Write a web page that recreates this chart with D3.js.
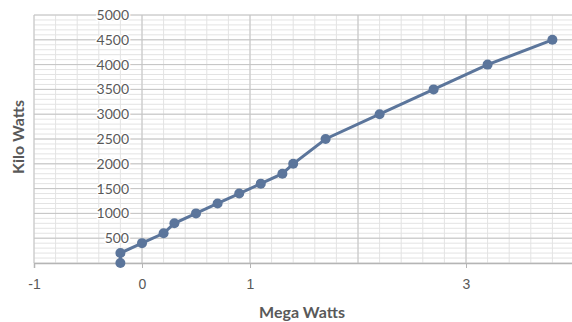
<!DOCTYPE html>
<html>
<head>
<meta charset="utf-8">
<script src="https://cdn.jsdelivr.net/npm/d3@7"></script>
<style>
  body { margin: 0; background: #fff; }
  svg { display: block; font-family: Lato, "Open Sans", sans-serif; }
</style>
</head>
<body>
<svg id="chart" width="572" height="322"></svg>
<script>
// data
const megaWatts = [-0.2, -0.2, 0, 0.2, 0.3, 0.5, 0.7, 0.9, 1.1, 1.3, 1.4, 1.7, 2.2, 2.7, 3.2, 3.8];
const kiloWatts = [0, 200, 400, 600, 800, 1000, 1200, 1400, 1600, 1800, 2000, 2500, 3000, 3500, 4000, 4500];
const xTickLabels = [-1, 0, 1, 3];
const yTickLabels = [500, 1000, 1500, 2000, 2500, 3000, 3500, 4000, 4500, 5000];

const points = megaWatts.map((mw, i) => ({ mw, kw: kiloWatts[i] }));

const svg = d3.select("#chart");
const margens = { left: 34, right: -2, top: 15, bottom: 59 };
const width = 572, height = 322;

const x = d3.scaleLinear()
    .domain([-1, 4])
    .range([margens.left, width - margens.right]);

const y = d3.scaleLinear()
    .domain([0, 5000])
    .range([height - margens.bottom, margens.top]);

// minor grid
svg.append("g")
    .selectAll("line")
    .data(d3.range(-1, 4.01, 0.2))
    .join("line")
    .attr("x1", d => x(d)).attr("x2", d => x(d))
    .attr("y1", y(0)).attr("y2", y(5000))
    .attr("stroke", "#e3e3e3");

svg.append("g")
    .selectAll("line")
    .data(d3.range(0, 5001, 100))
    .join("line")
    .attr("x1", x(-1)).attr("x2", width)
    .attr("y1", d => y(d)).attr("y2", d => y(d))
    .attr("stroke", "#e3e3e3");

// major grid
svg.append("g")
    .selectAll("line")
    .data(d3.range(-1, 5, 1))
    .join("line")
    .attr("x1", d => x(d)).attr("x2", d => x(d))
    .attr("y1", y(0)).attr("y2", y(5000))
    .attr("stroke", "#c4c4c4");

svg.append("g")
    .selectAll("line")
    .data(yTickLabels)
    .join("line")
    .attr("x1", x(-1)).attr("x2", width)
    .attr("y1", d => y(d)).attr("y2", d => y(d))
    .attr("stroke", "#c4c4c4");

// x axis
svg.append("g")
    .attr("transform", `translate(0, ${y(0)})`)
    .call(d3.axisBottom(x).tickValues(xTickLabels).tickSize(5).tickFormat(d => String(d)))
    .call(g => g.select(".domain").attr("stroke", "#b5b5b5").attr("stroke-width", 1.5))
    .call(g => g.selectAll(".tick line").attr("stroke", "#b5b5b5"))
    .call(g => g.selectAll(".tick text")
        .attr("fill", "#595959")
        .attr("font-size", "14px")
        .attr("dy", "1.3em"));

// y tick labels sit left of the x = 0 line
svg.append("g")
    .selectAll("text")
    .data(yTickLabels)
    .join("text")
    .attr("x", x(0) - 13)
    .attr("y", d => y(d))
    .attr("dy", "0.36em")
    .attr("text-anchor", "end")
    .attr("fill", "#595959")
    .attr("font-size", "14px")
    .attr("stroke", "#fff")
    .attr("stroke-width", 3)
    .attr("paint-order", "stroke")
    .text(d => d);

// series
const line = d3.line()
    .x(d => x(d.mw))
    .y(d => y(d.kw));

svg.append("path")
    .datum(points)
    .attr("fill", "none")
    .attr("stroke", "#5b759b")
    .attr("stroke-width", 3)
    .attr("d", line);

svg.append("g")
    .selectAll("circle")
    .data(points)
    .join("circle")
    .attr("cx", d => x(d.mw))
    .attr("cy", d => y(d.kw))
    .attr("r", 5)
    .attr("fill", "#5b759b");

// axis titles
svg.append("text")
    .attr("x", 302)
    .attr("y", 318)
    .attr("text-anchor", "middle")
    .attr("fill", "#595959")
    .attr("font-size", "16px")
    .attr("font-weight", "bold")
    .text("Mega Watts");

svg.append("text")
    .attr("transform", `translate(24, 137) rotate(-90)`)
    .attr("text-anchor", "middle")
    .attr("fill", "#595959")
    .attr("font-size", "16px")
    .attr("font-weight", "bold")
    .text("Kilo Watts");
</script>
</body>
</html>
